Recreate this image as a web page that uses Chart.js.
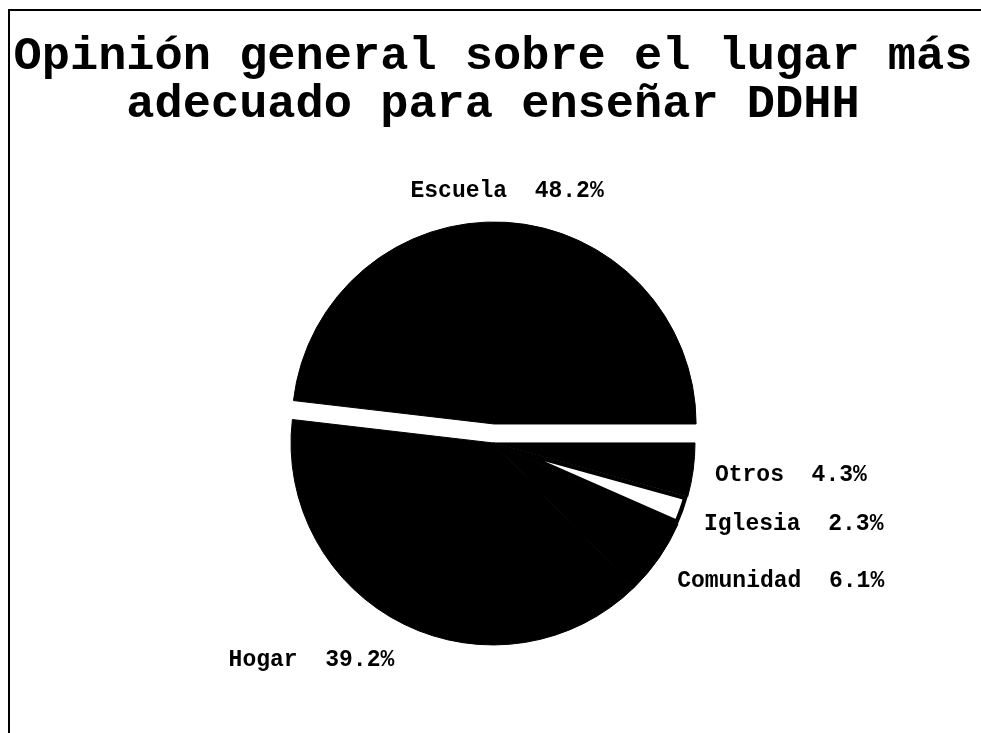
<!DOCTYPE html>
<html>
<head>
<meta charset="utf-8">
<script src="https://cdn.jsdelivr.net/npm/chart.js@4/dist/chart.umd.min.js"></script>
<style>
  html, body { margin: 0; padding: 0; background: #fff; }
  #wrap { position: relative; width: 981px; height: 733px; }
  #frame { position: absolute; left: 8px; top: 9px; right: 0; bottom: 0; border-top: 2px solid #000; border-left: 2px solid #000; pointer-events: none; }
  canvas { position: absolute; left: 0; top: 0; }
</style>
</head>
<body>
<div id="wrap">
  <canvas id="pieChart" width="981" height="733"></canvas>
  <div id="frame"></div>
</div>
<script>
const categories = ['Otros', 'Iglesia', 'Comunidad', 'Hogar', 'Escuela'];
const percents = [4.3, 2.3, 6.1, 39.2, 48.2];
const titleLines = ['Opinión general sobre el lugar más', 'adecuado para enseñar DDHH'];

const monoFont = '"Liberation Mono", "Courier New", monospace';
// how far each slice is pulled out of the pie (px)
const explode = [0, 0, 0, 0, 19];

// shift exploded slices without growing them (chart.js offset also enlarges the arc)
const explodeSlices = {
  id: 'explodeSlices',
  beforeDatasetsDraw(chart) {
    chart.getDatasetMeta(0).data.forEach((arc, i) => {
      if (!explode[i] || arc._exploded) return;
      const orig = arc.draw;
      arc.draw = function (ctx, area) {
        const mid = (this.startAngle + this.endAngle) / 2;
        ctx.save();
        ctx.translate(Math.cos(mid) * explode[i], Math.sin(mid) * explode[i]);
        orig.call(this, ctx, area);
        ctx.restore();
      };
      arc._exploded = true;
    });
  }
};

// labels "Nombre  xx.x%" placed just outside each slice
const sliceLabels = {
  id: 'sliceLabels',
  afterDraw(chart) {
    const ctx = chart.ctx;
    const meta = chart.getDatasetMeta(0);
    ctx.save();
    ctx.font = 'bold 23px ' + monoFont;
    ctx.fillStyle = '#000';
    ctx.textBaseline = 'middle';
    meta.data.forEach((arc, i) => {
      const p = arc.getProps(['x', 'y', 'startAngle', 'endAngle', 'outerRadius'], true);
      const mid = (p.startAngle + p.endAngle) / 2;
      const r = p.outerRadius + explode[i] + 22;
      const cos = Math.cos(mid), sin = Math.sin(mid);
      const x = p.x + cos * r;
      const y = p.y + sin * r + (sin > 0 ? sin * 18 : sin * 9);
      ctx.textAlign = cos > 0.25 ? 'left' : (cos < -0.25 ? 'right' : 'center');
      ctx.fillText(categories[i] + '  ' + percents[i].toFixed(1) + '%', x, y);
    });
    ctx.restore();
  }
};

const canvasPie = document.getElementById('pieChart');
const pieChart = new Chart(canvasPie, {
  type: 'pie',
  data: {
    labels: categories,
    datasets: [{
      data: percents,
      backgroundColor: ['#000', '#fff', '#000', '#000', '#000'],
      borderColor: '#000',
      borderWidth: [1, 4, 1, 1, 1],
      borderAlign: ['center', 'inner', 'center', 'center', 'center']
    }]
  },
  options: {
    responsive: false,
    animation: false,
    events: [],
    rotation: 90,
    radius: 202,
    layout: {
      padding: { left: 5, right: 0, top: 0, bottom: 7 }
    },
    plugins: {
      legend: { display: false },
      tooltip: { enabled: false },
      title: {
        display: true,
        text: titleLines,
        color: '#000',
        font: { family: monoFont, size: 47, weight: 'bold', lineHeight: 1.02 },
        padding: { top: 33, bottom: 31 }
      }
    }
  },
  plugins: [explodeSlices, sliceLabels]
});
</script>
</body>
</html>
